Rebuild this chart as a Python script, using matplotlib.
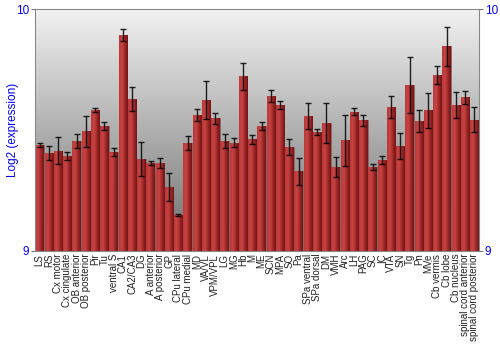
import numpy as np
import matplotlib
matplotlib.use('Agg')
import matplotlib.pyplot as plt
from matplotlib.colors import LinearSegmentedColormap

plt.rcParams['font.family'] = ['Liberation Sans', 'DejaVu Sans']

# regions and log2 expression values
regions = ['LS', 'RS', 'Cx motor', 'Cx cingulate', 'OB anterior', 'OB posterior',
           'Pir', 'Tu', 'ventral S', 'CA1', 'CA2/CA3', 'DG', 'A anterior',
           'A posterior', 'GP', 'CPu lateral', 'CPu medial', 'MD', 'VA/VL',
           'VPM/VPL', 'LG', 'MG', 'Hb', 'M', 'ME', 'SCN', 'MPA', 'SO', 'Pa',
           'SPa ventral', 'SPa dorsal', 'DM', 'VMH', 'Arc', 'LH', 'PAG', 'SC',
           'IC', 'VTA', 'SN', 'Tg', 'Pn', 'MVe', 'Cb vermis', 'Cb lobe',
           'Cb nucleus', 'spinal cord anterior', 'spinal cord posterior']
expression = [9.438, 9.405, 9.415, 9.393, 9.455, 9.494, 9.583, 9.517, 9.408,
              9.893, 9.627, 9.380, 9.364, 9.364, 9.264, 9.149, 9.445, 9.561,
              9.624, 9.548, 9.455, 9.448, 9.723, 9.461, 9.518, 9.642, 9.603,
              9.430, 9.329, 9.558, 9.492, 9.529, 9.347, 9.457, 9.576, 9.540,
              9.347, 9.376, 9.594, 9.433, 9.685, 9.536, 9.581, 9.726, 9.846,
              9.602, 9.636, 9.543]
errors = [0.009, 0.030, 0.055, 0.016, 0.030, 0.063, 0.009, 0.015, 0.016,
          0.025, 0.050, 0.072, 0.008, 0.020, 0.057, 0.003, 0.029, 0.025,
          0.077, 0.024, 0.030, 0.017, 0.056, 0.019, 0.017, 0.025, 0.018,
          0.032, 0.055, 0.053, 0.011, 0.083, 0.043, 0.104, 0.015, 0.023,
          0.011, 0.017, 0.045, 0.054, 0.116, 0.045, 0.071, 0.037, 0.082,
          0.054, 0.027, 0.052]

fig = plt.figure(figsize=(5, 3.5), dpi=100)
ax = fig.add_axes([0.07, 0.283, 0.888, 0.691])

x = np.arange(len(regions))
ymin, ymax = 9, 10

# grey vertical gradient background
bg = LinearSegmentedColormap.from_list('bg', ['#6e6e6e', '#f2f2f2'])
ax.imshow(np.linspace(0, 1, 256).reshape(-1, 1), cmap=bg, aspect='auto',
          extent=(-0.5, len(regions) - 0.5, ymin, ymax), origin='lower', zorder=0)

bars = ax.bar(x, np.array(expression) - ymin, bottom=ymin, width=0.92,
              color='#a52a2a', edgecolor='#8a6a6a', linewidth=0.6, zorder=2)

# horizontal shading inside each bar
shade = LinearSegmentedColormap.from_list('shade', ['#b83838', '#c84444', '#a02828', '#6e1414'])
grad = np.linspace(0, 1, 64).reshape(1, -1)
for b in bars:
    im = ax.imshow(grad, cmap=shade, aspect='auto', zorder=2.5,
                   extent=(b.get_x(), b.get_x() + b.get_width(), ymin, b.get_y() + b.get_height()))
    im.set_clip_path(b)

ax.errorbar(x, expression, yerr=errors, fmt='none', ecolor='black', alpha=0.85,
            elinewidth=1, capsize=2, capthick=1, zorder=3)

ax.set_xlim(-0.5, len(regions) - 0.5)
ax.set_ylim(ymin, ymax)
ax.set_xticks(x)
ax.set_xticklabels(regions, rotation=90, fontsize=7, color='#222222')
ax.tick_params(axis='x', length=0, pad=2)
ax.set_yticks([9, 10])
ax.set_yticklabels(['9', '10'])
ax.tick_params(axis='y', colors='#777777', labelcolor='blue', labelsize=8.5,
               length=3, pad=1, left=True, right=True, labelleft=True, labelright=True)
ax.set_ylabel('Log2 (expression)', color='blue', fontsize=8.5, labelpad=-2)
for s in ax.spines.values():
    s.set_color('#888888')
    s.set_linewidth(0.8)

fig.savefig('out.png', dpi=100)
